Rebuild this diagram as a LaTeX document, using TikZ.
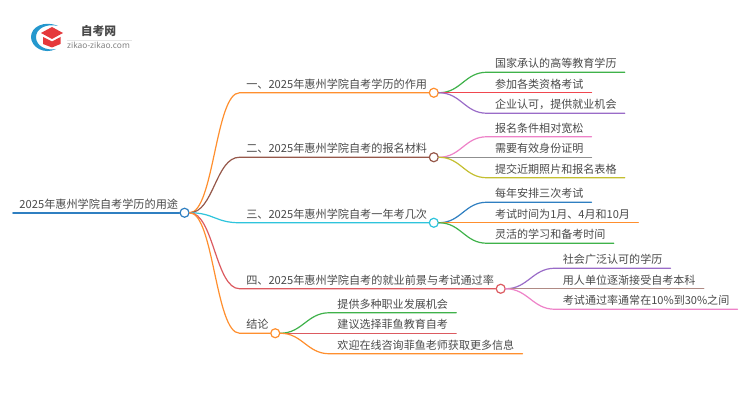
\documentclass[tikz,border=0pt]{standalone}
\usepackage{fontspec}
\setmainfont{Noto Sans CJK SC}
\newfontfamily\latinfont{Noto Sans}
\usetikzlibrary{positioning}
\definecolor{inkgray}{HTML}{4A4A4A}
\definecolor{rootblue}{HTML}{2F7FC1}
\definecolor{lineorange}{HTML}{FF8F2E}
\definecolor{linebrown}{HTML}{96584A}
\definecolor{linecyan}{HTML}{2EC4DC}
\definecolor{linered}{HTML}{DC5A60}
\definecolor{linegreen}{HTML}{3FB24A}
\definecolor{linescarlet}{HTML}{F0474F}
\definecolor{linepurple}{HTML}{9A6CC8}
\definecolor{linepink}{HTML}{EE82C8}
\definecolor{linegray}{HTML}{8F8F8F}
\definecolor{lineolive}{HTML}{C4BF30}
\definecolor{linetaupe}{HTML}{B08A84}
\definecolor{capred}{HTML}{E5393C}
\tikzset{
    label text/.style={text=inkgray,font=\fontsize{11.15}{13}\selectfont,anchor=south west},
    rootnode/.style={label text,inner xsep=6.3pt,inner ysep=3.2pt},
    branch/.style={label text,inner xsep=6.5pt,inner ysep=3.2pt},
    leaf/.style={label text,font=\fontsize{11.05}{13}\selectfont,inner xsep=8pt,inner ysep=3.2pt},
    hub/.style={circle,draw=#1,fill=white,line width=1.2pt,minimum size=9pt,inner sep=0pt},
    link/.style={to path={.. controls +(#1,0) and +(-#1,0) .. (\tikztotarget)}},
    wire/.style={draw=#1,line width=1.2pt,line cap=round},
}
\begin{document}
\begin{tikzpicture}[x=1pt,y=1pt]
    \useasboundingbox[fill=white] (0,0) rectangle (750,410);
    % logo
    \fill[rootblue!80!cyan] (58,384) .. controls (44,390) and (31,383) .. (31,373)
        .. controls (31,363) and (44,355) .. (56,361)
        .. controls (46,359) and (36,364) .. (36,373)
        .. controls (36,381) and (46,387) .. (58,384) -- cycle;
    \fill[capred] (52,383) -- (63,377) -- (52,371) -- (41,377) -- cycle;
    \fill[capred] (43,373) -- (52,368.5) -- (60.5,373) -- (60.5,366) -- (52,362.5) -- (43,366) -- cycle;
    \node[text=inkgray,font=\fontsize{11.8}{13}\selectfont\bfseries,inner sep=0pt] (logotitle) at (98.5,378.5) {自考网};
    \node[text=gray,font=\latinfont\fontsize{8.4}{9}\selectfont,inner sep=0pt] (logourl) at (98.5,365) {zikao-zikao.com};
    \draw[black!10,line width=.6pt] (logourl.north west) ++(0,1) -- ++(65,0);
    % root
    \node[rootnode] (root) at (13,197.25) {2025年惠州学院自考学历的用途};
    \node[hub=rootblue] (h0) at (root.south east) {};
    % branches
    \node[branch,above right=120pt and 55pt of h0.center,anchor=south west] (b1) {一、2025年惠州学院自考学历的作用};
    \node[branch,above right=55.5pt and 55pt of h0.center,anchor=south west] (b2) {二、2025年惠州学院自考的报名材料};
    \node[branch,below right=10pt and 55pt of h0.center,anchor=south west] (b3) {三、2025年惠州学院自考一年考几次};
    \node[branch,below right=76pt and 55pt of h0.center,anchor=south west] (b4) {四、2025年惠州学院自考的就业前景与考试通过率};
    \node[branch,below right=120.5pt and 55pt of h0.center,anchor=south west] (b5) {结论};
    \node[hub=lineorange] (h1) at (b1.south east) {};
    \node[hub=linebrown] (h2) at (b2.south east) {};
    \node[hub=linecyan] (h3) at (b3.south east) {};
    \node[hub=linered] (h4) at (b4.south east) {};
    \node[hub=lineorange] (h5) at (b5.south east) {};
    % leaves of each branch
    \node[leaf,above right=20.5pt and 53pt of h1.center,anchor=south west] (l1a) {国家承认的高等教育学历};
    \node[leaf,above right=0pt and 53pt of h1.center,anchor=south west] (l1b) {参加各类资格考试};
    \node[leaf,below right=20.5pt and 53pt of h1.center,anchor=south west] (l1c) {企业认可，提供就业机会};
    \node[leaf,above right=20.5pt and 53pt of h2.center,anchor=south west] (l2a) {报名条件相对宽松};
    \node[leaf,above right=0pt and 53pt of h2.center,anchor=south west] (l2b) {需要有效身份证明};
    \node[leaf,below right=20.5pt and 53pt of h2.center,anchor=south west] (l2c) {提交近期照片和报名表格};
    \node[leaf,above right=20.5pt and 53pt of h3.center,anchor=south west] (l3a) {每年安排三次考试};
    \node[leaf,above right=0pt and 53pt of h3.center,anchor=south west] (l3b) {考试时间为1月、4月和10月};
    \node[leaf,below right=20.5pt and 53pt of h3.center,anchor=south west] (l3c) {灵活的学习和备考时间};
    \node[leaf,above right=20.5pt and 54pt of h4.center,anchor=south west] (l4a) {社会广泛认可的学历};
    \node[leaf,above right=0pt and 54pt of h4.center,anchor=south west] (l4b) {用人单位逐渐接受自考本科};
    \node[leaf,below right=20.5pt and 54pt of h4.center,anchor=south west] (l4c) {考试通过率通常在10\%到30\%之间};
    \node[leaf,above right=20.5pt and 54pt of h5.center,anchor=south west] (l5a) {提供多种职业发展机会};
    \node[leaf,above right=0pt and 54pt of h5.center,anchor=south west] (l5b) {建议选择菲鱼教育自考};
    \node[leaf,below right=20.5pt and 54pt of h5.center,anchor=south west] (l5c) {欢迎在线咨询菲鱼老师获取更多信息};
    % connectors
    \draw[wire=rootblue,line width=1.6pt] (root.south west) -- (h0.west);
    \draw[wire=lineorange] (h0.east) to[link=24] (b1.south west) -- (h1.west);
    \draw[wire=linebrown] (h0.east) to[link=24] (b2.south west) -- (h2.west);
    \draw[wire=linecyan] (h0.east) to[link=24] (b3.south west) -- (h3.west);
    \draw[wire=linered] (h0.east) to[link=24] (b4.south west) -- (h4.west);
    \draw[wire=lineorange] (h0.east) to[link=24] (b5.south west) -- (h5.west);
    \draw[wire=linegreen] (h1.east) to[link=22] (l1a.south west) -- (l1a.south east);
    \draw[wire=linescarlet] (h1.east) -- (l1b.south east);
    \draw[wire=linepurple] (h1.east) to[link=22] (l1c.south west) -- (l1c.south east);
    \draw[wire=linepink] (h2.east) to[link=22] (l2a.south west) -- (l2a.south east);
    \draw[wire=linegray] (h2.east) -- (l2b.south east);
    \draw[wire=lineolive] (h2.east) to[link=22] (l2c.south west) -- (l2c.south east);
    \draw[wire=rootblue] (h3.east) to[link=22] (l3a.south west) -- (l3a.south east);
    \draw[wire=lineorange] (h3.east) -- (l3b.south east);
    \draw[wire=linegreen] (h3.east) to[link=22] (l3c.south west) -- (l3c.south east);
    \draw[wire=linepurple] (h4.east) to[link=22] (l4a.south west) -- (l4a.south east);
    \draw[wire=linetaupe] (h4.east) -- (l4b.south east);
    \draw[wire=linepink] (h4.east) to[link=22] (l4c.south west) -- (l4c.south east);
    \draw[wire=linegreen] (h5.east) to[link=22] (l5a.south west) -- (l5a.south east);
    \draw[wire=linered] (h5.east) -- (l5b.south east);
    \draw[wire=lineorange] (h5.east) to[link=22] (l5c.south west) -- (l5c.south east);
\end{tikzpicture}
\end{document}
